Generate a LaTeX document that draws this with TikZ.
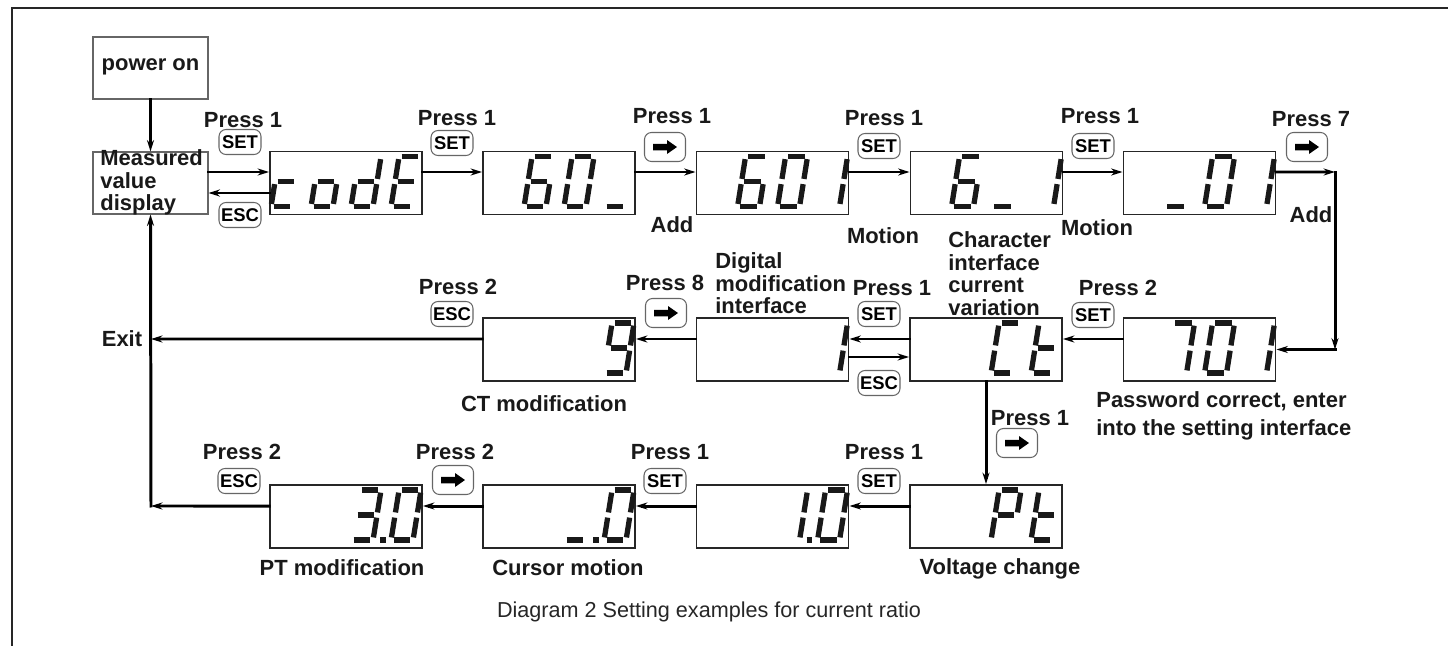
\documentclass[tikz,border=0pt]{standalone}
\usepackage{fontspec}
\setmainfont{Liberation Sans}
\usetikzlibrary{arrows.meta}

\tikzset{
  lcdbox/.style={draw=black!85, line width=1.1pt, minimum width=3.04cm, minimum height=1.26cm, inner sep=0},
  txtbox/.style={draw=black!60, line width=0.6pt, minimum width=2.3cm, minimum height=1.24cm, inner sep=0},
  lbl/.style={font=\fontsize{12.5}{13}\selectfont\bfseries, inner sep=0, align=left, text=black!90},
  btn/.style={draw=black!60, line width=0.6pt, fill=white, rounded corners=0.14cm, minimum width=0.84cm,
    minimum height=0.5cm, inner sep=0, font=\fontsize{10.5}{10.5}\selectfont\bfseries},
  fwd/.style={btn, minimum width=0.82cm, minimum height=0.58cm, path picture={
    \fill[black, sharp corners] ([shift={(-0.24cm,0.065cm)}]path picture bounding box.center) -- ++(0.28cm,0)
      -- ++(0,0.075cm) -- ++(0.2cm,-0.14cm) -- ++(-0.2cm,-0.14cm) -- ++(0,0.075cm) -- ++(-0.28cm,0) -- cycle;}},
  flow/.style={line width=1.7pt, line cap=rect, -{Stealth[length=6.5pt,width=4pt]}},
  lcdseg/.style={line width=3pt, shorten <=1.5pt, shorten >=1.5pt, black!90}
}

% one digit of a display: box, position 1..4, segments
\newcommand{\sevenseg}[3]{%
  \begin{scope}[shift={(#1.north west)}, shift={(40*#2-38,0)}]
    \coordinate (qa1) at (8,6); \coordinate (qa2) at (30,6);
    \coordinate (qb1) at (30,6); \coordinate (qb2) at (26,31);
    \coordinate (qc1) at (26,31); \coordinate (qc2) at (22,56);
    \coordinate (qd1) at (0,56); \coordinate (qd2) at (22,56);
    \coordinate (qe1) at (4,31); \coordinate (qe2) at (0,56);
    \coordinate (qf1) at (8,6); \coordinate (qf2) at (4,31);
    \coordinate (qg1) at (4,31); \coordinate (qg2) at (26,31);
    \coordinate (qp1) at (26.5,56); \coordinate (qp2) at (37.5,56);
    \foreach \s in {#3} \draw[lcdseg] (q\s1) -- (q\s2);
  \end{scope}}

\begin{document}
\begin{tikzpicture}[x=0.02cm, y=-0.02cm]
\useasboundingbox (0,0) rectangle (1448,646);
\draw[line width=1.2pt, black!85] (12,646) -- (12,8) -- (1448,8);

\node[txtbox] (pwr) at (150.5,68) {}; \node[lbl] (pwrt) at (150.5,67) {power on};
\node[txtbox] (mvd) at (150.5,183) {};
\node[lbl, anchor=north west] (mvdt) at (100,149) {Measured\\value\\display};

\node[lcdbox] (dcode) at (346,183) {}; \node[lcdbox] (d60) at (559,183) {};
\node[lcdbox] (d601) at (772.5,183) {}; \node[lcdbox] (d6b1) at (986.5,183) {};
\node[lcdbox] (db01) at (1199.5,183) {};
\node[lcdbox] (d701) at (1199.5,349.5) {}; \node[lcdbox] (dct) at (986,349.5) {};
\node[lcdbox] (dmd) at (772.5,349.5) {}; \node[lcdbox] (d9) at (559,349.5) {};
\node[lcdbox] (dpt) at (986,516.5) {}; \node[lcdbox] (d10) at (772.5,516.5) {};
\node[lcdbox] (db0) at (559,516.5) {}; \node[lcdbox] (d30) at (346,516.5) {};

\sevenseg{dcode}{1}{g,e,d} \sevenseg{dcode}{2}{g,c,d,e}
\sevenseg{dcode}{3}{b,c,d,e,g} \sevenseg{dcode}{4}{a,f,g,e,d}
\sevenseg{d60}{2}{a,f,g,e,d,c} \sevenseg{d60}{3}{a,b,c,d,e,f} \sevenseg{d60}{4}{d}
\sevenseg{d601}{2}{a,f,g,e,d,c} \sevenseg{d601}{3}{a,b,c,d,e,f} \sevenseg{d601}{4}{b,c}
\sevenseg{d6b1}{2}{a,f,g,e,d,c} \sevenseg{d6b1}{3}{d} \sevenseg{d6b1}{4}{b,c}
\sevenseg{db01}{2}{d} \sevenseg{db01}{3}{a,b,c,d,e,f} \sevenseg{db01}{4}{b,c}
\sevenseg{d701}{2}{a,b,c} \sevenseg{d701}{3}{a,b,c,d,e,f} \sevenseg{d701}{4}{b,c}
\sevenseg{dct}{3}{a,f,e,d} \sevenseg{dct}{4}{f,e,d,g}
\sevenseg{dmd}{4}{b,c}
\sevenseg{d9}{4}{a,b,c,d,f,g}
\sevenseg{dpt}{3}{a,b,f,g,e} \sevenseg{dpt}{4}{f,e,d,g}
\sevenseg{d10}{3}{b,c,p} \sevenseg{d10}{4}{a,b,c,d,e,f}
\sevenseg{db0}{3}{d,p} \sevenseg{db0}{4}{a,b,c,d,e,f}
\sevenseg{d30}{3}{a,b,c,d,g,p} \sevenseg{d30}{4}{a,b,c,d,e,f}

\coordinate (cr1) at (1335,172); \coordinate (cr2) at (1335,349.5);
\coordinate (ex1) at (151,339); \coordinate (ex2) at (151,506);

\draw[flow] (pwr) -- (mvd);
\draw[flow] ([yshift=0.22cm]mvd.east) -- ([yshift=0.22cm]dcode.west);
\draw[flow] ([yshift=-0.2cm]dcode.west) -- ([yshift=-0.2cm]mvd.east);
\draw[flow] ([yshift=0.22cm]dcode.east) -- ([yshift=0.22cm]d60.west);
\draw[flow] ([yshift=0.22cm]d60.east) -- ([yshift=0.22cm]d601.west);
\draw[flow] ([yshift=0.22cm]d601.east) -- ([yshift=0.22cm]d6b1.west);
\draw[flow] ([yshift=0.22cm]d6b1.east) -- ([yshift=0.22cm]db01.west);
\draw[flow] ([yshift=0.22cm]db01.east) -- (cr1); \draw[flow] (cr1) -- (cr2);
\draw[flow] (cr2) -- (d701.east);
\draw[flow] ([yshift=0.21cm]d701.west) -- ([yshift=0.21cm]dct.east);
\draw[flow] ([yshift=0.21cm]dct.west) -- ([yshift=0.21cm]dmd.east);
\draw[flow] ([yshift=-0.15cm]dmd.east) -- ([yshift=-0.15cm]dct.west);
\draw[flow] ([yshift=0.21cm]dmd.west) -- ([yshift=0.21cm]d9.east);
\draw[flow] ([yshift=0.21cm]d9.west) -- (ex1);
\draw[flow] (dct) -- (dpt);
\draw[flow] ([yshift=0.21cm]dpt.west) -- ([yshift=0.21cm]d10.east);
\draw[flow] ([yshift=0.21cm]d10.west) -- ([yshift=0.21cm]db0.east);
\draw[flow] ([yshift=0.21cm]db0.west) -- ([yshift=0.21cm]d30.east);
\draw[flow] ([yshift=0.21cm]d30.west) -- (ex2);
\draw[flow] (ex2) -- (mvd.south);

\node[lbl] (pr1) at (243,120) {Press 1}; \node[btn] (k1) at (240,142) {SET};
\node[btn] (k2) at (240,215) {ESC};
\node[lbl] (pr2) at (457,118) {Press 1}; \node[btn] (k3) at (452,143) {SET};
\node[lbl] (pr3) at (672,116) {Press 1}; \node[fwd] (k4) at (665,147) {};
\node[lbl] (pr4) at (884,118) {Press 1}; \node[btn] (k5) at (879,146) {SET};
\node[lbl] (pr5) at (1100,116) {Press 1}; \node[btn] (k6) at (1093,146) {SET};
\node[lbl] (pr6) at (1311,119) {Press 7}; \node[fwd] (k7) at (1307,147) {};
\node[lbl] (add1) at (672,225) {Add}; \node[lbl] (mot1) at (883,236) {Motion};
\node[lbl] (mot2) at (1097,228) {Motion}; \node[lbl] (add2) at (1311,215) {Add};

\node[lbl] (pr7) at (1118,288) {Press 2}; \node[btn] (k8) at (1093,315) {SET};
\node[lbl] (pr8) at (892,288) {Press 1}; \node[btn] (k9) at (879,314) {SET};
\node[btn] (k10) at (879,383) {ESC};
\node[lbl, anchor=north west] (chr) at (948,231) {Character\\interface\\current\\variation};
\node[lbl, anchor=north west] (dmi) at (715,252) {Digital\\modification\\interface};
\node[lbl] (pr9) at (665,283) {Press 8}; \node[fwd] (k11) at (666,313) {};
\node[lbl] (pr10) at (458,287) {Press 2}; \node[btn] (k12) at (452,314) {ESC};
\node[lbl] (exit) at (122,339) {Exit};
\node[lbl] (ctm) at (544,404) {CT modification};
\node[lbl, anchor=north west, font=\fontsize{12.5}{16}\selectfont\bfseries] (pwd) at (1096,391)
  {Password correct, enter\\into the setting interface};
\node[lbl] (pr11) at (1030,418) {Press 1}; \node[fwd] (k13) at (1017,443) {};

\node[lbl] (pr12) at (242,452) {Press 2}; \node[btn] (k14) at (239,481) {ESC};
\node[lbl] (pr13) at (455,452) {Press 2}; \node[fwd] (k15) at (453,480) {};
\node[lbl] (pr14) at (670,452) {Press 1}; \node[btn] (k16) at (665,481) {SET};
\node[lbl] (pr15) at (884,452) {Press 1}; \node[btn] (k17) at (879,481) {SET};
\node[lbl] (ptm) at (342,568) {PT modification};
\node[lbl] (cmo) at (568,568) {Cursor motion};
\node[lbl] (vch) at (1000,569) {Voltage change};
\node[font=\fontsize{12.3}{13}\selectfont, inner sep=0, text=black!85] (cap) at (709,612)
  {Diagram 2 Setting examples for current ratio};
\end{tikzpicture}
\end{document}
